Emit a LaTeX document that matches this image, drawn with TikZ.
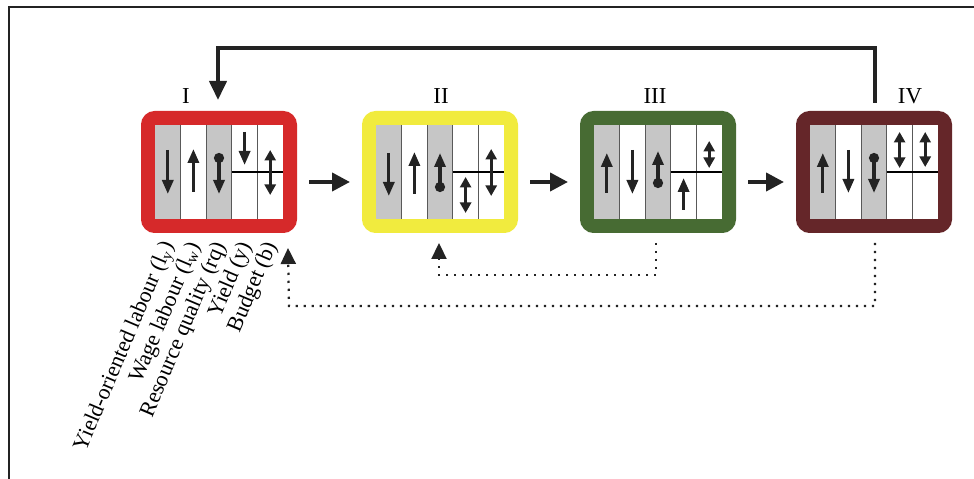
\documentclass[tikz,border=0pt]{standalone}
\usepackage{fontspec}
\setmainfont{Liberation Serif}
\usetikzlibrary{arrows.meta,calc,positioning}
\usepackage{xcolor}

\definecolor{stageI}{RGB}{214,41,42}
\definecolor{stageII}{RGB}{241,235,62}
\definecolor{stageIII}{RGB}{71,107,51}
\definecolor{stageIV}{RGB}{101,38,41}
\definecolor{cellgray}{RGB}{198,198,198}
\definecolor{ink}{RGB}{35,35,35}

\begin{document}
\begin{tikzpicture}[x=0.2mm, y=-0.2mm,
  stage/.style={draw=#1, line width=2.8mm, rounded corners=1.4mm,
    minimum width=28.4mm, minimum height=21.6mm, inner sep=0pt},
  flow/.style={ink, line width=0.8mm, -{Triangle[length=3.6mm,width=3.6mm]}},
  back/.style={ink, line width=0.45mm, dash pattern=on 0.45mm off 1.15mm,
    -{Triangle[length=3.2mm,width=3mm]}},
  up/.style={ink, line width=0.65mm, -{Triangle[length=2.8mm,width=2.2mm]}},
  both/.style={ink, line width=0.65mm, {Triangle[length=2.1mm,width=2.2mm]}-{Triangle[length=2.1mm,width=2.2mm]}},
  dot/.style={ink, line width=0.65mm, {Circle[length=2mm]}-{Triangle[length=2.8mm,width=2.2mm]}},
  numeral/.style={font=\fontsize{13}{13}\selectfont},
  varlabel/.style={font=\fontsize{12.6}{13}\selectfont, rotate=67, inner sep=0pt}]

  \useasboundingbox (0,0) rectangle (974,479);
  \draw[ink, line width=0.3mm] (9,479) -- (9,7) -- (974,7);

  % the four stages
  \node[stage=stageI]   (box1) at (219,172) {};
  \node[stage=stageII]  (box2) at (440,172) {};
  \node[stage=stageIII] (box3) at (658,172) {};
  \node[stage=stageIV]  (box4) at (874,172) {};

  % cell grid inside every stage (columns 1 and 3 shaded)
  \foreach \b in {1,2,3,4}{
    \begin{scope}[shift={(box\b.center)}]
      \fill[white] (-64,-47) rectangle (64,47);
      \fill[cellgray] (-64,-47) rectangle (-38.4,47);
      \fill[cellgray] (-12.8,-47) rectangle (12.8,47);
      \foreach \x in {-38.4,-12.8,12.8,38.4}
        \draw[black!65, line width=0.25mm] (\x,-47) -- (\x,47);
      \draw[black, line width=0.25mm] (12.8,0) -- (64,0);
    \end{scope}
  }

  % stage I
  \begin{scope}[shift={(box1.center)}]
    \draw[up]   (-51.2,-22) -- (-51.2,22);
    \draw[up]   (-25.6,20) -- (-25.6,-23);
    \draw[dot]  (0,-19) -- (0,22);
    \draw[up]   (25.6,-40) -- (25.6,-7);
    \draw[both] (51.2,-22) -- (51.2,23);
  \end{scope}
  % stage II
  \begin{scope}[shift={(box2.center)}]
    \draw[up]   (-51.2,-19) -- (-51.2,24);
    \draw[up]   (-25.6,22) -- (-25.6,-20);
    \draw[dot]  (0,20) -- (0,-19);
    \draw[both] (25.6,5) -- (25.6,41);
    \draw[both] (51.2,-23) -- (51.2,24);
  \end{scope}
  % stage III
  \begin{scope}[shift={(box3.center)}]
    \draw[up]   (-51.2,21) -- (-51.2,-19);
    \draw[up]   (-25.6,-22) -- (-25.6,22);
    \draw[dot]  (0,16) -- (0,-21);
    \draw[up]   (25.6,38) -- (25.6,6);
    \draw[both] (51.2,-31) -- (51.2,-4);
  \end{scope}
  % stage IV
  \begin{scope}[shift={(box4.center)}]
    \draw[up]   (-51.2,21) -- (-51.2,-19);
    \draw[up]   (-25.6,-22) -- (-25.6,21);
    \draw[dot]  (0,-19) -- (0,21);
    \draw[both] (25.6,-40) -- (25.6,-4);
    \draw[both] (51.2,-40) -- (51.2,-5);
  \end{scope}

  % stage numbers
  \node[numeral] (numI)   at (186,96) {I};
  \node[numeral] (numII)  at (441,96) {II};
  \node[numeral] (numIII) at (655,96) {III};
  \node[numeral] (numIV)  at (910,96) {IV};

  % forward steps
  \foreach \a/\b in {1/2,2/3,3/4}
    \draw[flow] ($(box\a.east)+(12,10)$) -- ($(box\b.west)+(-12,10)$);

  % long return IV -> I
  \draw[ink, line width=0.8mm, -{Triangle[length=3.8mm,width=3.4mm]}]
    ($(box4.north)+(1,-8)$) |- (218,48) -- ($(box1.north)+(-1,-11)$);

  % dotted returns
  \draw[back] ($(box3.south)+(-2,10)$) |- (439,275) -- ($(box2.south)+(-1,10)$);
  \draw[back] ($(box4.south)+(1,10)$) |- (289,306) -- ($(box1.south east)+(-9,15)$);

  % variable names under stage I
  \foreach \lab [count=\i] in {Yield-oriented labour (l\textsubscript{y}),
      Wage labour (l\textsubscript{w}), Resource quality (rq),
      Yield (y), Budget (b)}
    \node[varlabel, anchor=east] (var\i) at ($(box1.south west)+(25.6*\i+3,10)$) {\lab};
\end{tikzpicture}
\end{document}
